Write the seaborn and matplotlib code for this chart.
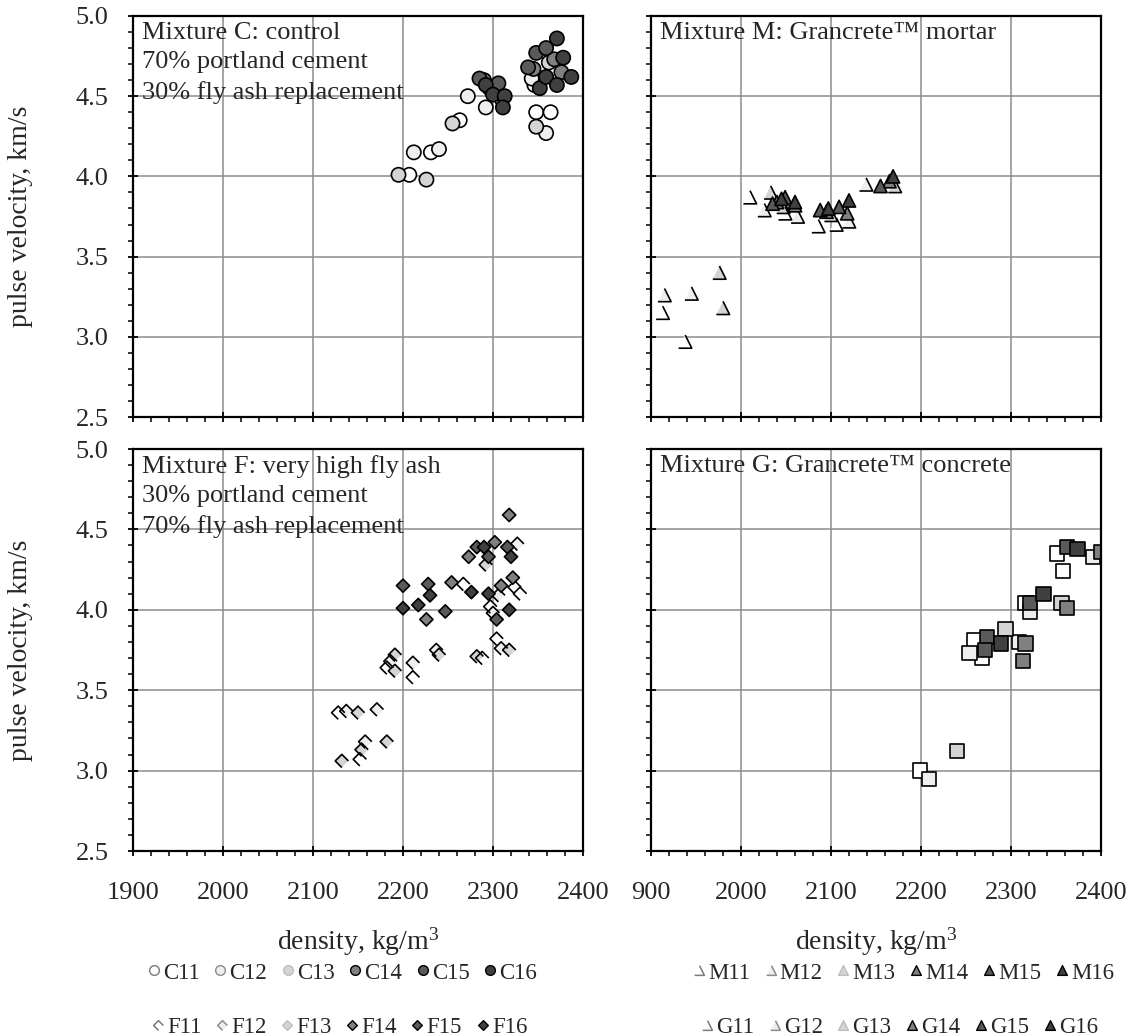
import numpy as np
import pandas as pd
import seaborn as sns
import matplotlib.pyplot as plt
from matplotlib.path import Path
from matplotlib.lines import Line2D
from matplotlib.legend_handler import HandlerTuple
from matplotlib.ticker import MultipleLocator, FormatStrFormatter

# grey shade for each casting (11 .. 16), same in every mixture
shades = ['#ffffff', '#eeeeee', '#d4d4d4', '#808080', '#5a5a5a', '#404040']

# Mixture C: control
c_names = ['C11', 'C12', 'C13', 'C14', 'C15', 'C16']
c_density = [2207, 2231, 2263, 2346, 2348, 2364,
             2212, 2240, 2272, 2292, 2359, 2343,
             2195, 2226, 2255, 2348, 2362, 2310,
             2290, 2300, 2345, 2368, 2376,
             2285, 2296, 2306, 2339, 2348, 2359,
             2292, 2300, 2313, 2311, 2352, 2359, 2371, 2371, 2378, 2387]
c_velocity = [4.01, 4.15, 4.35, 4.57, 4.40, 4.40,
              4.15, 4.17, 4.50, 4.43, 4.27, 4.61,
              4.01, 3.98, 4.33, 4.31, 4.71, 4.48,
              4.60, 4.53, 4.67, 4.73, 4.65,
              4.61, 4.55, 4.58, 4.68, 4.77, 4.80,
              4.57, 4.51, 4.50, 4.43, 4.55, 4.62, 4.86, 4.57, 4.74, 4.62]
c_series = ['C11'] * 6 + ['C12'] * 6 + ['C13'] * 6 + ['C14'] * 5 + ['C15'] * 6 + ['C16'] * 10

# Mixture M: Grancrete mortar
m_names = ['M11', 'M12', 'M13', 'M14', 'M15', 'M16']
m_density = [1913, 1938, 2010, 2049, 2086, 2106,
             1915, 1945, 2026, 2063, 2120, 2139,
             1976, 1980, 2033, 2047, 2100, 2171,
             2040, 2060, 2095, 2118, 2165,
             2035, 2049, 2088, 2109, 2155,
             2045, 2060, 2097, 2120, 2169]
m_velocity = [3.15, 2.97, 3.87, 3.77, 3.69, 3.70,
              3.26, 3.27, 3.79, 3.75, 3.72, 3.95,
              3.40, 3.18, 3.90, 3.81, 3.76, 3.94,
              3.84, 3.82, 3.78, 3.77, 3.97,
              3.83, 3.87, 3.79, 3.81, 3.94,
              3.86, 3.84, 3.80, 3.85, 4.00]
m_series = ['M11'] * 6 + ['M12'] * 6 + ['M13'] * 6 + ['M14'] * 5 + ['M15'] * 5 + ['M16'] * 5

# Mixture F: very high fly ash
f_names = ['F11', 'F12', 'F13', 'F14', 'F15', 'F16']
f_density = [2128, 2152, 2182, 2211, 2288, 2304, 2297, 2330, 2267, 2324,
             2137, 2158, 2186, 2211, 2237, 2309, 2306, 2327, 2171, 2300,
             2132, 2150, 2154, 2182, 2191, 2191, 2240, 2282, 2292, 2318,
             2226, 2318, 2302, 2322, 2309, 2254, 2273,
             2200, 2228, 2247, 2282, 2295, 2316, 2304,
             2200, 2217, 2230, 2276, 2290, 2320, 2295, 2318]
f_velocity = [3.36, 3.07, 3.64, 3.58, 3.70, 3.82, 4.02, 4.10, 4.16, 4.14,
              3.37, 3.18, 3.68, 3.67, 3.75, 3.76, 4.09, 4.41, 3.38, 3.98,
              3.06, 3.36, 3.13, 3.18, 3.62, 3.72, 3.72, 3.71, 4.28, 3.75,
              3.94, 4.59, 4.42, 4.20, 4.15, 4.17, 4.33,
              4.15, 4.16, 3.99, 4.39, 4.33, 4.39, 3.94,
              4.01, 4.03, 4.09, 4.11, 4.39, 4.33, 4.10, 4.00]
f_series = ['F11'] * 10 + ['F12'] * 10 + ['F13'] * 10 + ['F14'] * 7 + ['F15'] * 7 + ['F16'] * 8

# Mixture G: Grancrete concrete
g_names = ['G11', 'G12', 'G13', 'G14', 'G15', 'G16']
g_density = [2351, 2358, 2316, 2259, 2268, 2199,
             2321, 2254, 2309, 2209, 2391,
             2356, 2294, 2240,
             2400, 2362, 2316, 2313,
             2362, 2321, 2273, 2271,
             2374, 2336, 2289]
g_velocity = [4.35, 4.24, 4.04, 3.81, 3.70, 3.00,
              3.99, 3.73, 3.80, 2.95, 4.33,
              4.04, 3.88, 3.12,
              4.36, 4.01, 3.79, 3.68,
              4.39, 4.04, 3.83, 3.75,
              4.38, 4.10, 3.79]
g_series = ['G11'] * 6 + ['G12'] * 5 + ['G13'] * 3 + ['G14'] * 4 + ['G15'] * 4 + ['G16'] * 3

x_ticks = [1900, 2000, 2100, 2200, 2300, 2400]
left_xlabels = ['1900', '2000', '2100', '2200', '2300', '2400']
right_xlabels = ['900', '2000', '2100', '2200', '2300', '2400']

sns.set_style('white')
plt.rcParams['font.family'] = ['Liberation Serif', 'DejaVu Serif']
plt.rcParams['mathtext.fontset'] = 'custom'
plt.rcParams['mathtext.rm'] = 'Liberation Serif'
plt.rcParams['mathtext.it'] = 'Liberation Serif:italic'

# marker shapes: full ones, and the two-sided outlines the light series get
MV, LT, CL = Path.MOVETO, Path.LINETO, Path.CLOSEPOLY
tri_fill = Path([(0, 1), (-1, -1), (1, -1), (0, 1)], [MV, LT, LT, CL])
tri_edge = Path([(0, 1), (1, -1), (-1, -1)], [MV, LT, LT])
dia_fill = Path([(0, 1), (-1, 0), (0, -1), (1, 0), (0, 1)], [MV, LT, LT, LT, CL])
dia_edge = Path([(0, -1), (-1, 0), (0, 1), (1, 0)], [MV, LT, LT, LT])


def draw_panel(ax, density, velocity, series, names, marker, edge_marker, size):
    df = pd.DataFrame({'density': density, 'velocity': velocity, 'series': series})
    common = dict(x='density', y='velocity', s=size, legend=False, ax=ax)
    if edge_marker is None:
        sns.scatterplot(data=df, hue='series', hue_order=names, palette=shades,
                        marker=marker, edgecolor='black', linewidth=1.2, **common)
        return
    light = df[df['series'].isin(names[:3])]
    dark = df[df['series'].isin(names[3:])]
    sns.scatterplot(data=light, hue='series', hue_order=names, palette=shades,
                    marker=marker, edgecolor='none', linewidth=0, **common)
    sns.scatterplot(data=light, marker=edge_marker, color='black', facecolors='none',
                    edgecolor='black', linewidth=1.2, **common)
    sns.scatterplot(data=dark, hue='series', hue_order=names, palette=shades,
                    marker=marker, edgecolor='black', linewidth=1.2, **common)


def style_axes(ax, labels, show_x, show_y):
    ax.set_xlim(1900, 2400)
    ax.set_ylim(2.5, 5.0)
    ax.set_xticks(x_ticks)
    ax.set_xticklabels(labels)
    ax.xaxis.set_minor_locator(MultipleLocator(20))
    ax.yaxis.set_major_locator(MultipleLocator(0.5))
    ax.yaxis.set_minor_locator(MultipleLocator(0.1))
    ax.yaxis.set_major_formatter(FormatStrFormatter('%.1f'))
    ax.set_axisbelow(True)
    ax.grid(True, which='major', color='#8c8c8c', linewidth=1.1)
    ax.tick_params(which='major', direction='inout', length=7, width=1.3, color='black',
                   labelsize=19, bottom=True, left=True, top=False, right=False,
                   labelbottom=show_x, labelleft=show_y)
    ax.tick_params(axis='x', which='major', pad=19)
    ax.tick_params(axis='y', which='major', pad=14)
    ax.tick_params(which='minor', direction='out', length=3.5, width=1.1, color='black',
                   bottom=True, left=True, top=False, right=False)
    for sp in ax.spines.values():
        sp.set_color('black')
        sp.set_linewidth(1.6)
    ax.set_xlabel('')
    ax.set_ylabel('')
    if show_x:
        ax.set_xlabel('density, kg/m$^3$', fontsize=20)
        ax.xaxis.set_label_coords(0.5, -0.185)
        ax.xaxis.label.set_va('top')
    if show_y:
        ax.set_ylabel('pulse velocity, km/s', fontsize=20)
        ax.yaxis.set_label_coords(-0.222, 0.5)


def make_handles(names, marker, edge_marker, edge_greys):
    handles = []
    for i, name in enumerate(names):
        if edge_marker is not None and i < 2:
            fill = Line2D([], [], linestyle='none', marker=marker, markersize=7,
                          markerfacecolor=shades[i], markeredgecolor='none')
            edge = Line2D([], [], linestyle='none', marker=edge_marker, markersize=7,
                          markerfacecolor='none', markeredgecolor=edge_greys[i],
                          markeredgewidth=1.1)
            handles.append((fill, edge))
        else:
            handles.append(Line2D([], [], linestyle='none', marker=marker, markersize=7,
                                  markerfacecolor=shades[i], markeredgecolor=edge_greys[i],
                                  markeredgewidth=1.0))
    return handles


W, H = 1135, 1036
fig = plt.figure(figsize=(W / 100, H / 100), dpi=100)
ax_c = fig.add_axes([133 / W, 1 - 417 / H, 450 / W, 401 / H])
ax_m = fig.add_axes([651 / W, 1 - 417 / H, 450 / W, 401 / H])
ax_f = fig.add_axes([133 / W, 1 - 851 / H, 450 / W, 402 / H])
ax_g = fig.add_axes([651 / W, 1 - 851 / H, 450 / W, 402 / H])

draw_panel(ax_c, c_density, c_velocity, c_series, c_names, 'o', None, 105)
draw_panel(ax_m, m_density, m_velocity, m_series, m_names, tri_fill, tri_edge, 90)
draw_panel(ax_f, f_density, f_velocity, f_series, f_names, dia_fill, dia_edge, 90)
draw_panel(ax_g, g_density, g_velocity, g_series, g_names, 's', None, 105)

style_axes(ax_c, left_xlabels, False, True)
style_axes(ax_m, right_xlabels, False, False)
style_axes(ax_f, left_xlabels, True, True)
style_axes(ax_g, right_xlabels, True, False)

txt = dict(transform=None, ha='left', va='top', fontsize=19, linespacing=1.42)
for ax, label in [(ax_c, 'Mixture C: control\n70% portland cement\n30% fly ash replacement'),
                  (ax_m, 'Mixture M: Grancrete\u2122 mortar'),
                  (ax_f, 'Mixture F: very high fly ash\n30% portland cement\n70% fly ash replacement'),
                  (ax_g, 'Mixture G: Grancrete\u2122 concrete')]:
    txt['transform'] = ax.transAxes
    ax.text(0.02, 0.985, label, **txt)

greys = ['#7a7a7a', '#8c8c8c', '#bdbdbd', 'black', 'black', 'black']
leg_kw = dict(loc='center', ncol=6, frameon=False, fontsize=16.5, handlelength=0.6,
              handletextpad=0.1, columnspacing=0.6, borderpad=0,
              handler_map={tuple: HandlerTuple(ndivide=1, pad=0)})
fig.legend(make_handles(c_names, 'o', None, greys), c_names,
           bbox_to_anchor=(342 / W, 1 - 973 / H), **leg_kw)
fig.legend(make_handles(f_names, dia_fill, dia_edge, greys), f_names,
           bbox_to_anchor=(339 / W, 1 - 1027 / H), **leg_kw)
fig.legend(make_handles(m_names, tri_fill, tri_edge, greys), m_names,
           bbox_to_anchor=(903 / W, 1 - 973 / H), **leg_kw)
fig.legend(make_handles(g_names, tri_fill, tri_edge, greys), g_names,
           bbox_to_anchor=(899 / W, 1 - 1027 / H), **leg_kw)

fig.savefig('out.png', dpi=100)
